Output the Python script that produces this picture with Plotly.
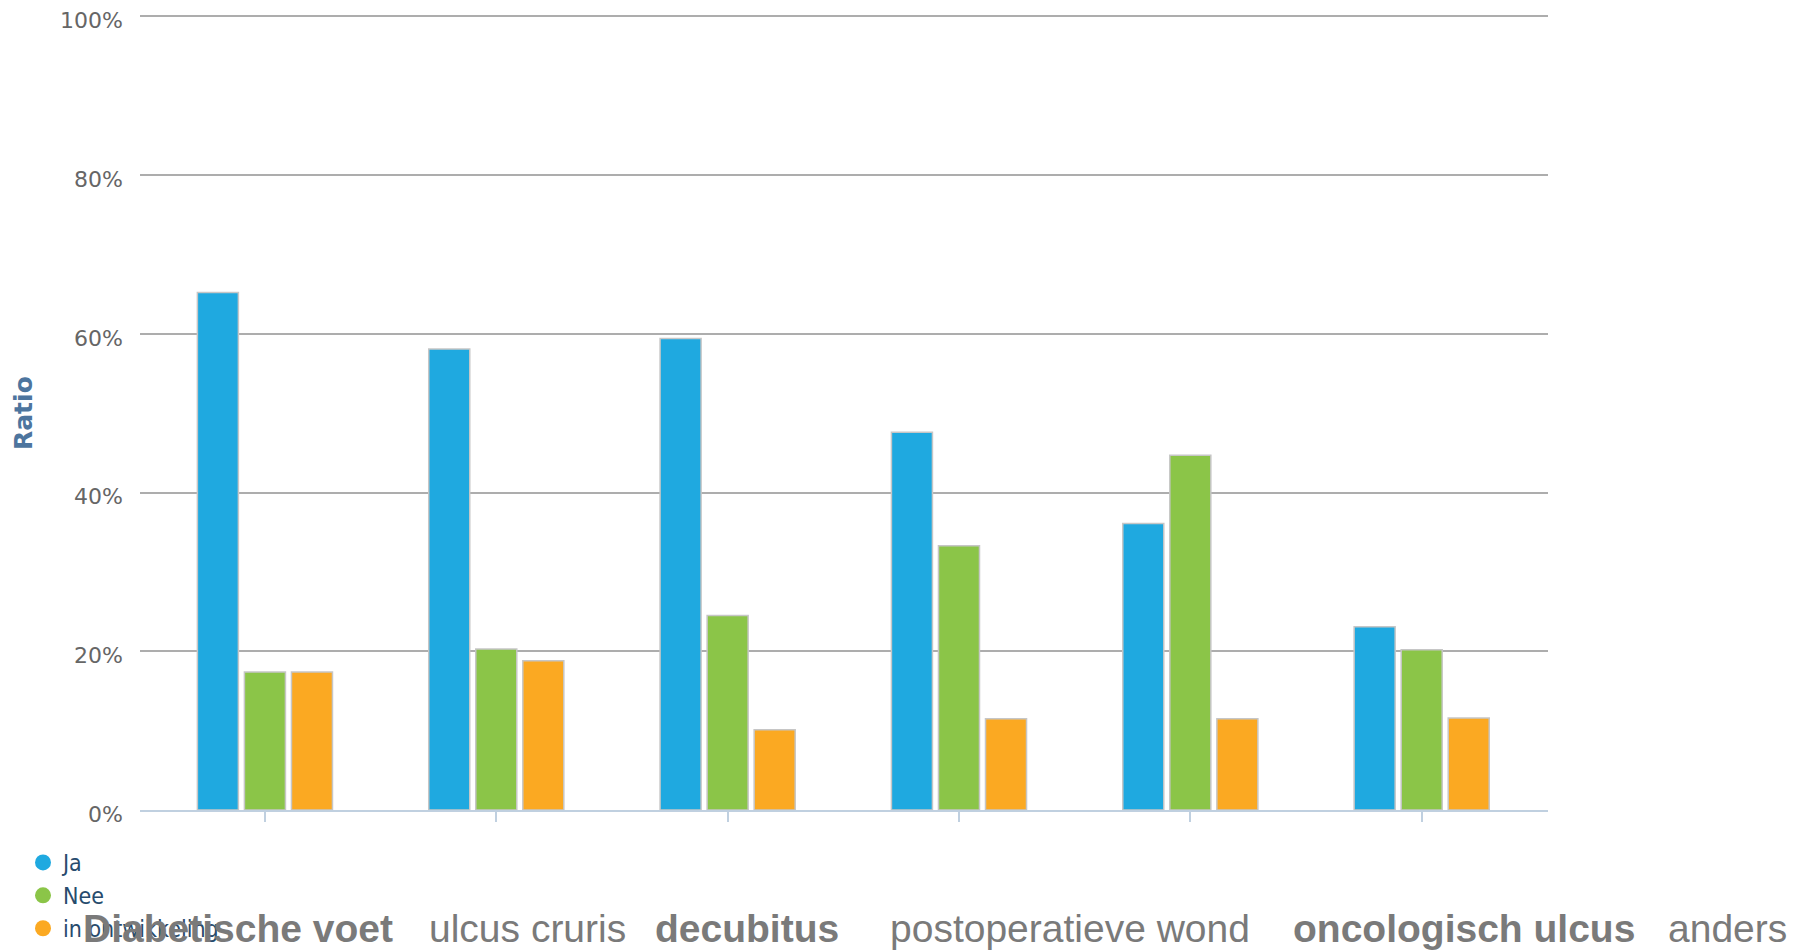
import plotly.graph_objects as go

categories = ["Diabetische voet", "ulcus cruris", "decubitus", "postoperatieve wond",
              "oncologisch ulcus", "anders"]
series_names = ["Ja", "Nee", "in ontwikkeling"]
ja = [65.2, 58.1, 59.4, 47.6, 36.1, 23.1]
nee = [17.4, 20.3, 24.5, 33.3, 44.7, 20.2]
in_ontwikkeling = [17.4, 18.8, 10.1, 11.5, 11.5, 11.6]
y_ticks = [0, 20, 40, 60, 80, 100]
y_tick_labels = ["0%", "20%", "40%", "60%", "80%", "100%"]
colors = ["#1fa9e0", "#8bc548", "#fba922"]

W, H = 1814, 951
OFF = 8  # default page body margin of the html page
ML, MR, MT, MB = 140 - OFF, 266 + OFF, 14 - OFF, 141 + OFF
PW, PH = W - ML - MR, H - MT - MB

# centre pixel positions (page coordinates) of the category words in the bottom line
label_center_px = [238, 527, 747, 1070, 1464, 1727]


def px_to_paper_x(px):
    return (px - OFF - ML) / PW


def px_to_paper_y(py):
    return (H - MB - (py - OFF)) / PH


fig = go.Figure()
for name, vals, col in zip(series_names, [ja, nee, in_ontwikkeling], colors):
    fig.add_trace(go.Bar(
        x=categories, y=vals, name=name, showlegend=False,
        marker=dict(color=col, line=dict(color="#c6c6c6", width=1.5)),
    ))
for i, (name, col) in enumerate(zip(series_names, colors)):
    fig.add_trace(go.Scatter(
        x=[None], y=[None], mode="markers", name=name, legendgroup=f"g{i}",
        marker=dict(symbol="circle", size=18, color=col),
    ))

# bottom category line (alternating bold / regular)
for i, (c, px) in enumerate(zip(categories, label_center_px)):
    fig.add_annotation(
        text=f"<b>{c}</b>" if i % 2 == 0 else c,
        xref="paper", yref="paper",
        x=px_to_paper_x(px), y=px_to_paper_y(928),
        xanchor="center", yanchor="middle", showarrow=False,
        font=dict(family="Liberation Sans, Arial, sans-serif", size=39, color="#7a7a7a"),
    )

# y axis title
fig.add_annotation(
    text="<b>Ratio</b>", textangle=-90, xref="paper", yref="paper",
    x=px_to_paper_x(23), y=px_to_paper_y(413),
    xanchor="center", yanchor="middle", showarrow=False,
    font=dict(size=25, color="#4d759e", family="DejaVu Sans, sans-serif"),
)

fig.update_layout(
    width=W, height=H,
    margin=dict(l=ML, r=MR, t=MT, b=MB, autoexpand=False),
    paper_bgcolor="white", plot_bgcolor="white",
    barmode="group", bargap=0.39, bargroupgap=0.128,
    font=dict(family="DejaVu Sans, sans-serif", color="#666666"),
    legend=dict(
        xref="container", yref="container", x=(23 - OFF) / W, y=1 - (841 - OFF) / H,
        xanchor="left", yanchor="top", orientation="v", tracegroupgap=0,
        font=dict(family="DejaVu Sans Condensed, DejaVu Sans, sans-serif", size=23, color="#274b6d"),
        bgcolor="rgba(0,0,0,0)",
    ),
    xaxis=dict(
        type="category", range=[-0.54, 5.546], showticklabels=False, automargin=False,
        showline=True, linecolor="#c0d0e0", linewidth=2,
        ticks="outside", ticklen=10, tickwidth=2, tickcolor="#c0d0e0",
        showgrid=False, fixedrange=True,
    ),
    yaxis=dict(
        range=[0, 100.3], tickvals=y_ticks, ticktext=y_tick_labels, automargin=False,
        showgrid=True, gridcolor="#adadad", gridwidth=2, zeroline=False,
        showline=False, ticks="", ticklabelstandoff=16, ticklabelshift=4,
        ticklabeloverflow="allow",
        tickfont=dict(size=22, color="#666666", family="DejaVu Sans, sans-serif"),
    ),
)

fig.write_html("out.html")
